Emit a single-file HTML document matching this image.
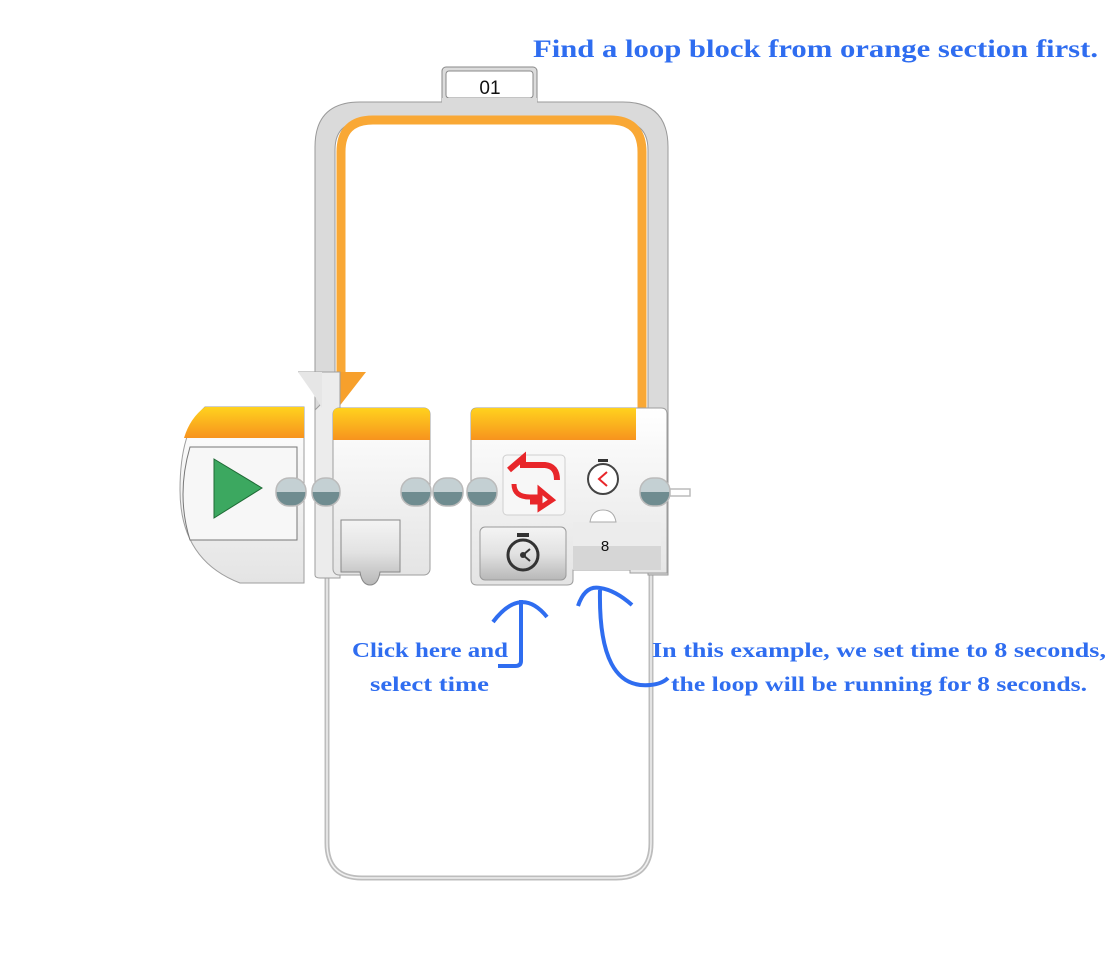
<!DOCTYPE html>
<html><head><meta charset="utf-8"><style>
html,body{margin:0;padding:0;background:#fff;width:1116px;height:974px;overflow:hidden}
svg{position:absolute;left:0;top:0}
.t{font-family:"Liberation Serif",serif;font-weight:bold;fill:#2f6df0}
</style></head><body>
<svg width="1116" height="974" viewBox="0 0 1116 974">
<defs>
<linearGradient id="og" x1="0" y1="0" x2="0" y2="1"><stop offset="0" stop-color="#ffd21e"/><stop offset="1" stop-color="#f7931e"/></linearGradient>
<linearGradient id="wg" x1="0" y1="0" x2="0" y2="1"><stop offset="0" stop-color="#ffffff"/><stop offset="1" stop-color="#e4e4e4"/></linearGradient>
<linearGradient id="bg" x1="0" y1="0" x2="0" y2="1"><stop offset="0" stop-color="#f4f4f4"/><stop offset="0.5" stop-color="#e2e2e2"/><stop offset="1" stop-color="#b8b8b8"/></linearGradient>
<linearGradient id="cg" x1="0" y1="0" x2="0" y2="1"><stop offset="0" stop-color="#c4d0d3"/><stop offset="0.5" stop-color="#c4d0d3"/><stop offset="0.5" stop-color="#6f8c90"/><stop offset="1" stop-color="#6f8c90"/></linearGradient>
</defs>
<text class="t" x="533" y="57" font-size="25" textLength="565" lengthAdjust="spacingAndGlyphs">Find a loop block from orange section first.</text>
<!-- lower loop frame -->
<path d="M327,570 L327,843 Q327,878 362,878 L616,878 Q651,878 651,843 L651,570" fill="none" stroke="#bdbdbd" stroke-width="5"/>
<path d="M327,570 L327,843 Q327,878 362,878 L616,878 Q651,878 651,843 L651,570" fill="none" stroke="#f0f0f0" stroke-width="1.5"/>
<!-- tab -->
<rect x="442" y="67" width="95" height="40" rx="4" fill="#dcdcdc" stroke="#8a8a8a"/>
<rect x="446" y="71" width="87" height="27" rx="3" fill="#fff" stroke="#888"/>
<text x="490" y="94" font-family="Liberation Sans,sans-serif" font-size="19" text-anchor="middle" fill="#111">01</text>
<!-- upper loop frame -->
<path d="M315,420 L315,147 Q315,102 360,102 L623,102 Q668,102 668,147 L668,575 L648,575 L648,150 Q648,122 620,122 L363,122 Q335,122 335,150 L335,420 Z" fill="#dadada" stroke="#9a9a9a"/>
<rect x="442" y="98" width="95" height="8" fill="#dadada"/>
<path d="M341,380 L341,152 Q341,120 373,120 L610,120 Q642,120 642,152 L642,420" fill="none" stroke="#f9a835" stroke-width="9"/>
<path d="M336,372 L366,372 L338,408 Z" fill="#f7a02c"/>
<!-- left loop strip with notch -->
<path d="M298,372 L320,372 L320,405 L315,410 L315,575 Q315,578 320,578 L340,578 L340,372 Z" fill="#ececec" stroke="#9e9e9e"/>
<path d="M298,372 L312,392 L322,408 L322,372 Z" fill="#e6e6e6"/>
<!-- start block -->
<path d="M205,407 L304,407 L304,583 L240,583 Q180,560 180,490 Q180,430 205,407 Z" fill="url(#wg)" stroke="#9e9e9e"/>
<path d="M205,407 L304,407 L304,438 L184,438 Q190,418 205,407 Z" fill="url(#og)"/>
<path d="M190,447 L297,447 L297,540 L190,540 Q176,495 190,447 Z" fill="#f7f7f7" stroke="#777"/>
<path d="M214,459 L262,488 L214,518 Z" fill="#3ca860" stroke="#1f6b36"/>
<!-- loop start block -->
<rect x="333" y="408" width="97" height="167" rx="6" fill="url(#wg)" stroke="#9e9e9e"/>
<path d="M339,408 L424,408 Q430,408 430,414 L430,440 L333,440 L333,414 Q333,408 339,408 Z" fill="url(#og)"/>
<path d="M341,520 L400,520 L400,572 L380,572 Q378,585 370,585 Q362,585 360,572 L341,572 Z" fill="url(#bg)" stroke="#888"/>
<!-- loop end block -->
<path d="M477,408 L661,408 Q667,408 667,414 L667,573 L630,573 L630,570 L573,570 L573,580 Q573,585 567,585 L477,585 Q471,585 471,579 L471,414 Q471,408 477,408 Z" fill="url(#wg)" stroke="#9e9e9e"/>
<path d="M477,408 L636,408 L636,440 L471,440 L471,414 Q471,408 477,408 Z" fill="url(#og)"/>
<rect x="503" y="455" width="62" height="60" rx="4" fill="#f7f7f7" stroke="#cfcfcf"/>
<path d="M509,470 L523,458 L523,465 L545,465 Q557,466 557,480" fill="none" stroke="#e8262a" stroke-width="6"/>
<path d="M514,484 Q514,497 530,497 L540,497 L540,490 L552,500 L540,508 L540,502 L530,502" fill="none" stroke="#e8262a" stroke-width="5"/>
<circle cx="603" cy="479" r="15" fill="#fff" stroke="#444" stroke-width="2"/>
<rect x="598" y="459" width="10" height="3" fill="#333"/>
<path d="M607,472 L599,479 L607,486" fill="none" stroke="#e8262a" stroke-width="2"/>
<rect x="573" y="522" width="88" height="48" fill="#d6d6d6"/>
<rect x="573" y="522" width="88" height="24" fill="#ececec"/>
<path d="M590,522 Q592,510 603,510 Q614,510 616,522 Z" fill="#fff" stroke="#aaa"/>
<text x="605" y="551" font-family="Liberation Sans,sans-serif" font-size="15" text-anchor="middle" fill="#111">8</text>
<rect x="480" y="527" width="86" height="53" rx="5" fill="url(#bg)" stroke="#9a9a9a"/>
<circle cx="523" cy="555" r="15" fill="none" stroke="#333" stroke-width="3"/>
<rect x="517" y="533" width="12" height="4" fill="#333"/>
<circle cx="523" cy="555" r="3" fill="#333"/>
<path d="M523,555 L530,549 M523,555 L530,561" stroke="#333" stroke-width="2"/>
<!-- connectors -->
<g stroke="#bbb" stroke-width="1.5">
<rect x="276" y="478" width="30" height="28" rx="13" fill="url(#cg)"/>
<rect x="312" y="478" width="28" height="28" rx="13" fill="url(#cg)"/>
<rect x="401" y="478" width="30" height="28" rx="13" fill="url(#cg)"/>
<rect x="433" y="478" width="30" height="28" rx="13" fill="url(#cg)"/>
<rect x="467" y="478" width="30" height="28" rx="13" fill="url(#cg)"/>
<rect x="640" y="478" width="30" height="28" rx="13" fill="url(#cg)"/>
<rect x="670" y="489" width="20" height="7" fill="#fff"/>
</g>
<!-- annotations -->
<path d="M493,622 Q521,585 547,617" fill="none" stroke="#2f6df0" stroke-width="4"/>
<path d="M521,600 L521,661 Q521,666 515,666 L498,666" fill="none" stroke="#2f6df0" stroke-width="4"/>
<path d="M578,606 Q585,585 600,588 Q615,590 632,605" fill="none" stroke="#2f6df0" stroke-width="4"/>
<path d="M600,590 Q598,690 650,685 Q662,684 668,678" fill="none" stroke="#2f6df0" stroke-width="4"/>
<text class="t" x="352" y="657" font-size="21" textLength="156" lengthAdjust="spacingAndGlyphs">Click here and</text>
<text class="t" x="370" y="691" font-size="21" textLength="119" lengthAdjust="spacingAndGlyphs">select time</text>
<text class="t" x="652" y="657" font-size="21" textLength="454" lengthAdjust="spacingAndGlyphs">In this example, we set time to 8 seconds,</text>
<text class="t" x="671" y="691" font-size="21" textLength="416" lengthAdjust="spacingAndGlyphs">the loop will be running for 8 seconds.</text>
</svg>
</body></html>
